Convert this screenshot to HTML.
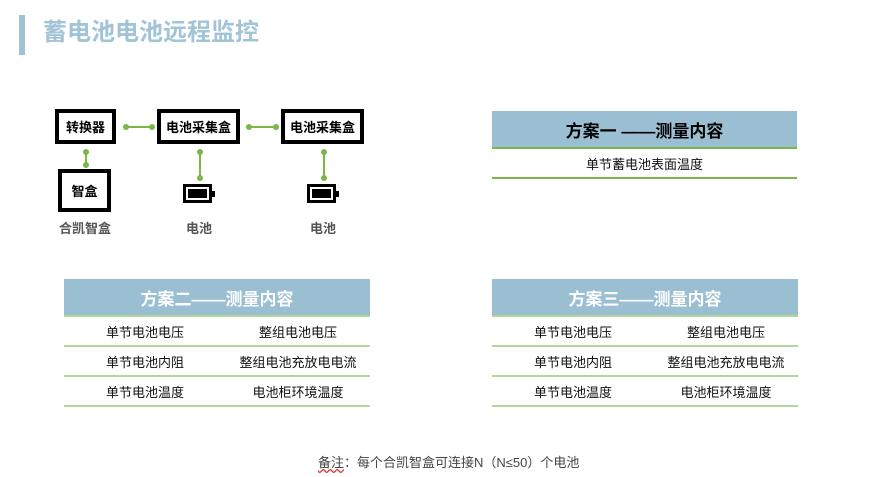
<!DOCTYPE html>
<html><head><meta charset="utf-8"><style>
body{margin:0;width:886px;height:477px;background:#fff;position:relative;overflow:hidden;font-family:"Liberation Sans","Noto Sans CJK SC",sans-serif;}
.a{position:absolute;}
.box{position:absolute;border:4px solid #000;box-sizing:border-box;display:flex;align-items:center;justify-content:center;font-size:13px;font-weight:bold;color:#000;background:#fff;}
.lbl{position:absolute;font-size:13px;font-weight:bold;color:#555;text-align:center;width:80px;}
.hl{position:absolute;height:2px;background:#7ab648;}
.vl{position:absolute;width:2px;background:#7ab648;}
.dot{position:absolute;width:6px;height:6px;border-radius:50%;background:#7ab648;}
.bat{position:absolute;width:29px;height:19px;border:3px solid #000;box-sizing:border-box;background:#fff;}
.bat:before{content:"";position:absolute;left:2px;top:2px;right:2px;bottom:2px;background:#000;}
.bat:after{content:"";position:absolute;right:-6px;top:4px;width:3px;height:6px;background:#000;}
.tbl{position:absolute;width:306px;}
.hd{height:36px;background:#9bbfd2;display:flex;align-items:center;justify-content:center;font-size:17px;font-weight:bold;}
.row{height:28px;border-top:2px solid #b2d59b;display:flex;align-items:center;font-size:13px;color:#111;}
.row span{flex:1;text-align:center;}
.row span:first-child{flex:0 0 162px;}
</style></head><body>
<div class="a" style="left:19px;top:15px;width:6px;height:40px;background:#9fc3d5"></div>
<div class="a" style="left:43px;top:16px;font-size:24px;font-weight:bold;color:#a2c4d6;line-height:34px">蓄电池电池远程监控</div>

<div class="box" style="left:55px;top:109px;width:61px;height:35px">转换器</div>
<div class="box" style="left:157px;top:109px;width:83px;height:35px">电池采集盒</div>
<div class="box" style="left:281px;top:109px;width:83px;height:35px">电池采集盒</div>
<div class="box" style="left:58px;top:169px;width:53px;height:43px">智盒</div>

<div class="hl" style="left:125px;top:126px;width:27px"></div>
<div class="dot" style="left:123px;top:124px"></div><div class="dot" style="left:149px;top:124px"></div>
<div class="hl" style="left:248px;top:126px;width:28px"></div>
<div class="dot" style="left:246px;top:124px"></div><div class="dot" style="left:273px;top:124px"></div>
<div class="vl" style="left:85px;top:152px;height:13px"></div>
<div class="dot" style="left:83px;top:149px"></div><div class="dot" style="left:83px;top:162px"></div>
<div class="vl" style="left:199px;top:152px;height:26px"></div>
<div class="dot" style="left:197px;top:149px"></div><div class="dot" style="left:197px;top:175px"></div>
<div class="vl" style="left:323px;top:152px;height:26px"></div>
<div class="dot" style="left:321px;top:149px"></div><div class="dot" style="left:321px;top:175px"></div>

<div class="bat" style="left:183px;top:184px"></div>
<div class="bat" style="left:307px;top:184px"></div>

<div class="lbl" style="left:45px;top:218px">合凯智盒</div>
<div class="lbl" style="left:159px;top:218px">电池</div>
<div class="lbl" style="left:283px;top:218px">电池</div>

<div class="tbl" style="left:492px;top:111px;width:305px">
<div class="hd" style="color:#000;height:36px">方案一 ——测量内容</div>
<div class="row" style="border-top-color:#7ab648;border-bottom:2px solid #7ab648;"><span style="flex:1">单节蓄电池表面温度</span></div>
</div>

<div class="tbl" style="left:64px;top:279px">
<div class="hd" style="color:#fff">方案二——测量内容</div>
<div class="row"><span>单节电池电压</span><span>整组电池电压</span></div>
<div class="row"><span>单节电池内阻</span><span>整组电池充放电电流</span></div>
<div class="row" style="border-bottom:2px solid #b2d59b"><span>单节电池温度</span><span>电池柜环境温度</span></div>
</div>

<div class="tbl" style="left:492px;top:279px">
<div class="hd" style="color:#fff">方案三——测量内容</div>
<div class="row"><span>单节电池电压</span><span>整组电池电压</span></div>
<div class="row"><span>单节电池内阻</span><span>整组电池充放电电流</span></div>
<div class="row" style="border-bottom:2px solid #b2d59b"><span>单节电池温度</span><span>电池柜环境温度</span></div>
</div>

<div class="a" style="left:318px;top:452px;font-size:13px;color:#444"><span style="text-decoration:underline wavy #d33">备注</span>：每个合凯智盒可连接N（N≤50）个电池</div>
</body></html>
